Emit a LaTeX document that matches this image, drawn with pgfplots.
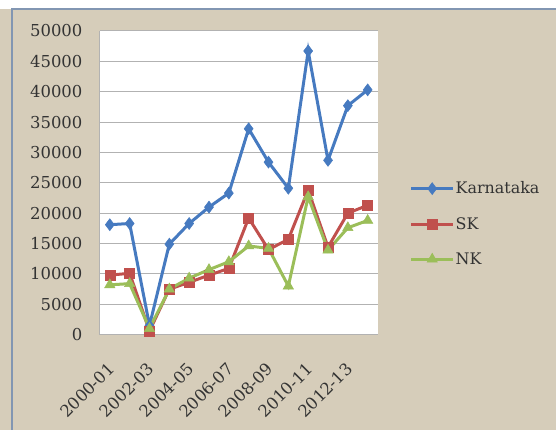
\documentclass[border=0pt]{standalone}
\usepackage{fontspec}
\setmainfont{DejaVu Serif}
\usepackage{pgfplots}
\pgfplotsset{compat=1.18}
\definecolor{bg}{RGB}{214,205,186}
\definecolor{framec}{RGB}{130,150,178}
\definecolor{kblue}{RGB}{70,122,192}
\definecolor{skred}{RGB}{192,80,77}
\definecolor{nkgreen}{RGB}{155,190,89}
\begin{document}
\begin{tikzpicture}[x=1bp,y=1bp]
\fill[white] (0,0) rectangle (557,430);
\fill[bg] (0,0) rectangle (557,421);
\draw[framec, line width=1.2bp] (12,0) -- (12,421) -- (557,421);
\begin{axis}[
  at={(100bp,95bp)}, anchor=south west,
  scale only axis, width=278bp, height=304bp,
  xmin=-0.5, xmax=13.5, ymin=0, ymax=50000,
  scaled y ticks=false,
  axis background/.style={fill=white},
  axis lines=left,
  axis line style={draw=gray!60, line width=1bp, -},
  major tick length=0pt,
  ymajorgrids, grid style={gray!60, line width=1bp},
  xtick={0,2,...,12},
  xticklabels={2000-01,2002-03,2004-05,2006-07,2008-09,2010-11,2012-13},
  ytick={0,5000,...,50000},
  yticklabels={0,5000,10000,15000,20000,25000,30000,35000,40000,45000,50000},
  tick label style={font=\fontsize{16.5}{19}\selectfont, text=black!80},
  yticklabel style={xshift=-14bp},
  xticklabel style={xshift=4bp, yshift=-29bp, rotate=45, anchor=east},
  legend style={at={(1.115,0.365)}, anchor=west, draw=none, fill=none, inner sep=0pt,
    row sep=20bp, font=\fontsize{16}{18}\selectfont, text=black!80,
    nodes={inner sep=1bp}},
  legend cell align=left,
  legend image code/.code={\draw[#1, mark repeat=2, mark phase=2] plot coordinates {(0bp,0bp) (21bp,0bp) (42bp,0bp)};},
]
\addplot[kblue, line width=3bp, mark=diamond*, mark size=6bp, mark options={solid, fill=kblue, draw=kblue, line width=0.5bp}]
coordinates {(0,18100) (1,18300) (2,1500) (3,14900) (4,18300) (5,21000) (6,23300) (7,33900) (8,28400) (9,24100) (10,46700) (11,28700) (12,37700) (13,40300)};
\addlegendentry{Karnataka}
\addplot[skred, line width=3bp, mark=square*, mark size=5bp, mark options={solid, fill=skred, draw=skred, line width=0.5bp}]
coordinates {(0,9800) (1,10100) (2,600) (3,7500) (4,8600) (5,9800) (6,10900) (7,19200) (8,14000) (9,15700) (10,23800) (11,14400) (12,20000) (13,21300)};
\addlegendentry{SK}
\addplot[nkgreen, line width=3bp, mark=triangle*, mark size=6bp, mark options={solid, fill=nkgreen, draw=nkgreen, line width=0.5bp}]
coordinates {(0,8200) (1,8400) (2,1000) (3,7500) (4,9300) (5,10700) (6,12000) (7,14600) (8,14200) (9,8000) (10,22700) (11,13900) (12,17600) (13,18800)};
\addlegendentry{NK}
\end{axis}
\end{tikzpicture}
\end{document}
